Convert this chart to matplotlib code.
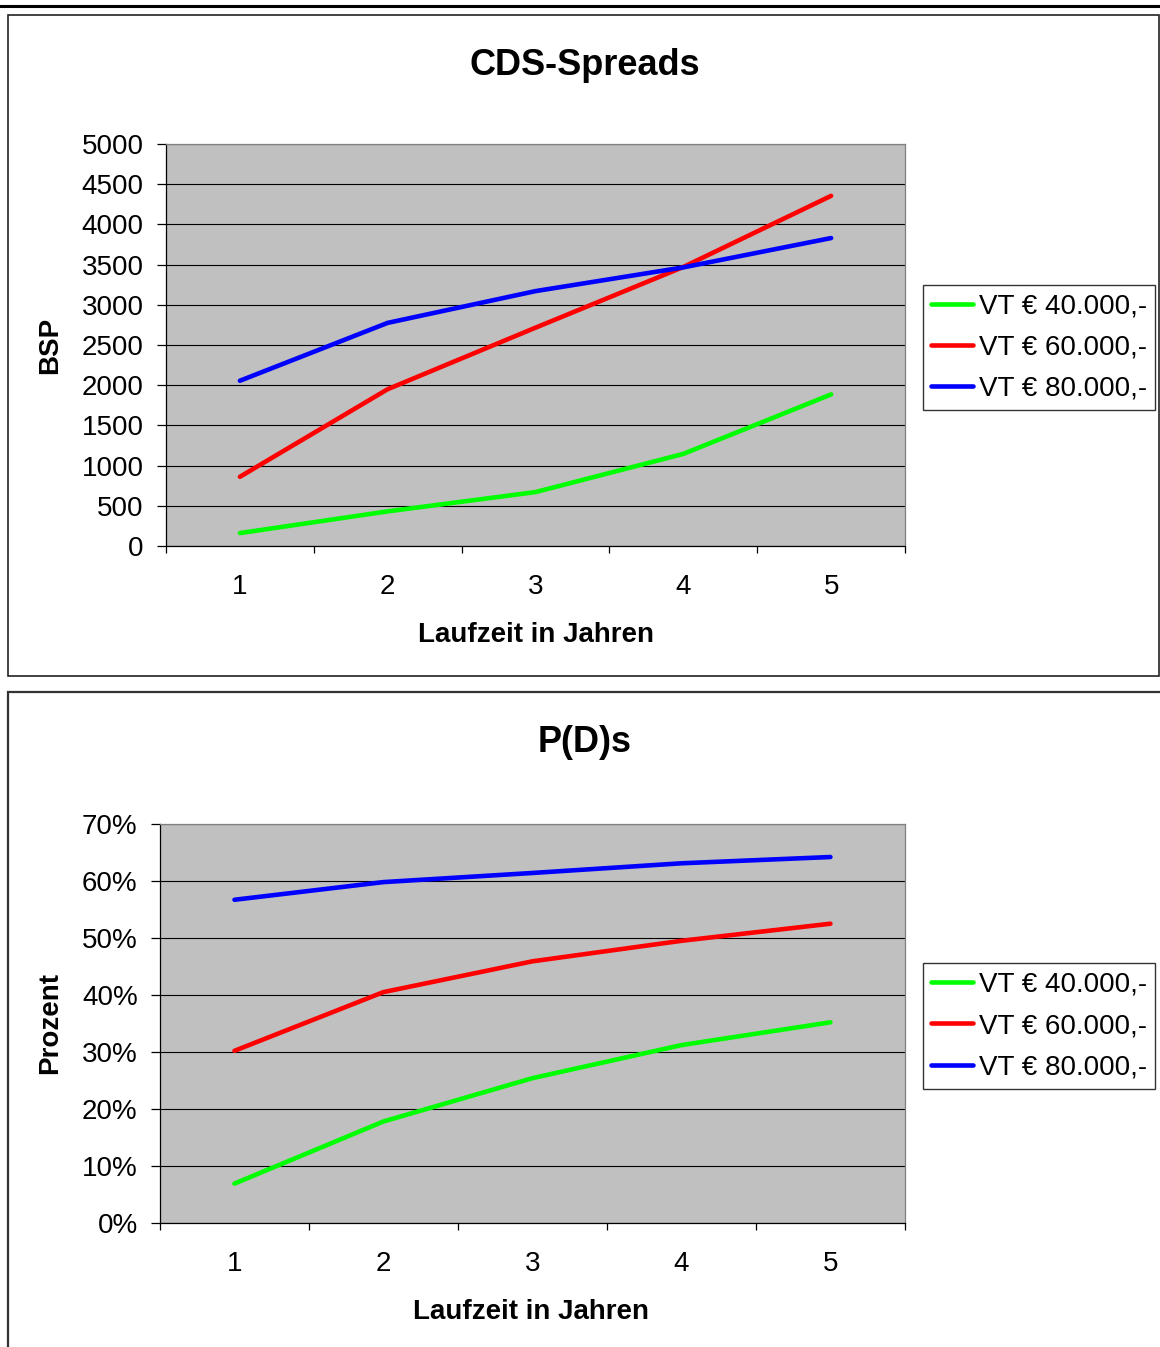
import matplotlib.pyplot as plt
from matplotlib.patches import Rectangle
from matplotlib.lines import Line2D
from matplotlib.ticker import FuncFormatter

plt.rcParams['font.family'] = ['Liberation Sans', 'DejaVu Sans']

# Daten
years = [1, 2, 3, 4, 5]
labels = ["VT € 40.000,-", "VT € 60.000,-", "VT € 80.000,-"]
colors = ["#00ff00", "#ff0000", "#0000ff"]

cds_40 = [160, 430, 670, 1145, 1885]
cds_60 = [860, 1950, 2715, 3470, 4355]
cds_80 = [2055, 2775, 3170, 3465, 3830]

pd_40 = [0.069, 0.178, 0.254, 0.312, 0.352]
pd_60 = [0.302, 0.405, 0.459, 0.495, 0.525]
pd_80 = [0.567, 0.598, 0.614, 0.631, 0.642]

FS = 20

fig = plt.figure(figsize=(11.6, 13.47), dpi=100)

# Rahmen und Linie oben
fig.add_artist(Line2D([0, 1], [0.9952, 0.9952], color="black", lw=2.2,
                      transform=fig.transFigure))
fig.add_artist(Rectangle((0.0069, 0.4981), 0.9922, 0.4907, fill=False,
                         ec="#222222", lw=1.2, transform=fig.transFigure))
fig.add_artist(Rectangle((0.0069, -0.05), 1.0, 0.5363, fill=False,
                         ec="#333333", lw=1.6, transform=fig.transFigure))


def style_axes(ax, ymax, ystep):
    ax.set_facecolor("#c0c0c0")
    ax.set_xlim(0.5, 5.5)
    ax.set_ylim(0, ymax)
    ax.set_xticks([0.5, 1.5, 2.5, 3.5, 4.5, 5.5])
    ax.set_xticklabels([])
    ax.set_xticks(years, minor=True)
    ax.set_xticklabels([str(y) for y in years], minor=True, fontsize=FS)
    ax.tick_params(axis="x", which="major", direction="out", length=5,
                   width=0.9, color="black")
    ax.tick_params(axis="x", which="minor", length=0, pad=20)
    n = int(round(ymax / ystep))
    ax.set_yticks([i * ystep for i in range(n + 1)])
    ax.tick_params(axis="y", direction="out", length=6.5, width=0.9,
                   labelsize=FS, pad=9.5)
    ax.grid(axis="y", color="black", lw=0.8)
    ax.set_axisbelow(True)
    ax.spines["left"].set_color("black")
    ax.spines["bottom"].set_color("black")
    ax.spines["top"].set_color("#808080")
    ax.spines["right"].set_color("#808080")
    for s in ax.spines.values():
        s.set_linewidth(0.9)


def draw_lines(ax, series):
    for vals, c, lab in zip(series, colors, labels):
        ax.plot(years, vals, color=c, lw=3.3, label=lab,
                solid_capstyle="round", solid_joinstyle="round")


def add_legend(ax, yc):
    leg = ax.legend(loc="center left", bbox_to_anchor=(0.7957, yc),
                    bbox_transform=fig.transFigure, fontsize=FS,
                    frameon=True, fancybox=False, edgecolor="black",
                    handlelength=1.5, handletextpad=0.2, borderpad=0.3,
                    labelspacing=0.55, borderaxespad=0)
    leg.get_frame().set_linewidth(1.0)


# Chart 1: CDS-Spreads
ax1 = fig.add_axes([0.1431, 0.5947, 0.6371, 0.2984])
style_axes(ax1, 5000, 500)
draw_lines(ax1, [cds_40, cds_60, cds_80])
ax1.set_xlabel("Laufzeit in Jahren", fontsize=FS, fontweight="bold")
ax1.xaxis.set_label_coords(0.5, -0.222)
ax1.xaxis.label.set_va("center")
ax1.set_ylabel("BSP", fontsize=FS, fontweight="bold")
ax1.yaxis.set_label_coords(-0.157, 0.5)
ax1.yaxis.label.set_va("center")
fig.text(0.5043, 0.9517, "CDS-Spreads", fontsize=26, fontweight="bold",
         ha="center", va="center")
add_legend(ax1, 0.7420)

# Chart 2: P(D)s
ax2 = fig.add_axes([0.1379, 0.0921, 0.6422, 0.2962])
style_axes(ax2, 0.7, 0.1)
ax2.yaxis.set_major_formatter(FuncFormatter(lambda v, p: f"{v * 100:.0f}%"))
draw_lines(ax2, [pd_40, pd_60, pd_80])
ax2.set_xlabel("Laufzeit in Jahren", fontsize=FS, fontweight="bold")
ax2.xaxis.set_label_coords(0.498, -0.222)
ax2.xaxis.label.set_va("center")
ax2.set_ylabel("Prozent", fontsize=FS, fontweight="bold")
ax2.yaxis.set_label_coords(-0.1477, 0.5)
ax2.yaxis.label.set_va("center")
fig.text(0.5043, 0.4491, "P(D)s", fontsize=26, fontweight="bold",
         ha="center", va="center")
add_legend(ax2, 0.2383)

fig.savefig("out.png", dpi=100)
